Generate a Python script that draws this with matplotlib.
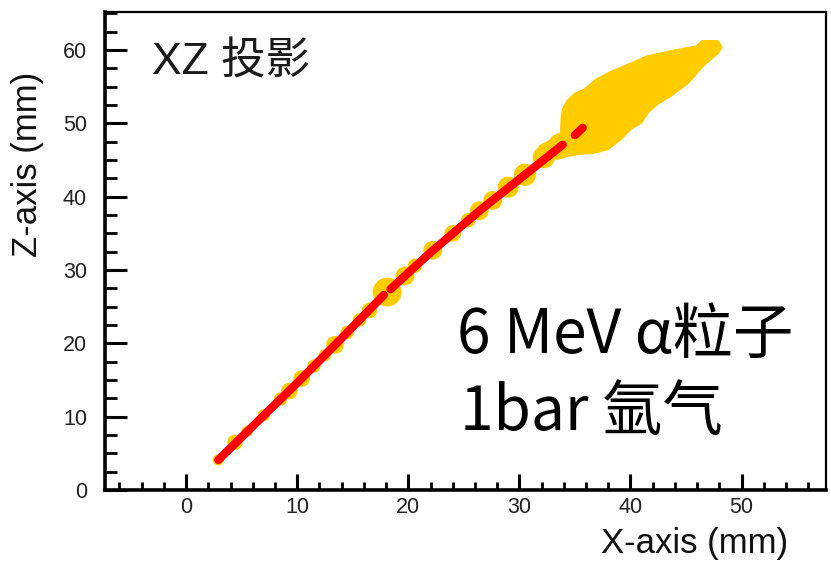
import matplotlib
matplotlib.use("Agg")
import matplotlib.pyplot as plt
from matplotlib.ticker import MultipleLocator

# ---- data ----
# red reconstructed track (X, Z in mm), split into segments with gaps
track_x = [2.9, 6.0, 10.0, 14.0, 17.8]
track_z = [4.1, 8.7, 14.6, 20.7, 26.6]
track2_x = [18.4, 22.0, 26.5, 31.0, 33.9]
track2_z = [27.4, 32.4, 38.2, 43.6, 47.1]
track3_x = [35.0, 35.7]
track3_z = [48.4, 49.4]

# yellow charge deposits along the track: X, Z (mm) and spread diameter (mm)
dep_x = [2.9, 4.4, 5.5, 7.0, 8.5, 9.3, 10.4, 11.5, 12.5, 13.4, 14.5, 15.6, 16.5,
         18.1, 19.7, 20.6, 22.2, 24.0, 25.4, 26.4, 27.6, 29.0, 30.5, 32.2, 33.7]
dep_z = [4.1, 6.5, 8.0, 10.2, 12.4, 13.5, 15.2, 16.9, 18.4, 19.8, 21.5, 23.2, 24.5,
         27.0, 29.2, 30.6, 32.7, 35.0, 36.8, 38.1, 39.5, 41.3, 43.0, 45.4, 47.0]
dep_d = [1.0, 1.4, 1.0, 1.1, 1.2, 1.5, 1.5, 1.2, 1.1, 1.6, 1.2, 1.2, 1.4,
         2.6, 1.7, 1.3, 1.7, 1.5, 1.3, 1.7, 1.7, 1.9, 2.0, 2.0, 2.2]

# end-of-track (Bragg peak) deposit outline
blob_x = [31.9, 32.8, 33.8, 33.9, 34.0, 34.4, 35.0, 35.9, 37.0, 38.4, 40.0, 41.5,
          43.6, 46.0, 46.5, 47.8, 48.1,
          47.8, 46.5, 45.1, 43.6, 42.4, 41.5, 40.9, 40.0, 39.1, 37.9, 36.6, 35.5,
          34.3, 33.4]
blob_z = [46.8, 47.5, 48.4, 50.7, 51.9, 53.0, 53.9, 54.5, 55.9, 57.0, 58.0, 59.0,
          59.7, 60.4, 61.1, 61.1, 60.4,
          59.7, 58.0, 55.6, 53.9, 52.8, 51.6, 50.2, 49.4, 48.0, 46.6, 46.1, 46.0,
          45.7, 45.3]

x_ticks = [0, 10, 20, 30, 40, 50]
z_ticks = [0, 10, 20, 30, 40, 50, 60]

YELLOW = "#FFCC00"
RED = "#FF0000"

fig = plt.figure(figsize=(8.31, 5.63), dpi=100)
ax = fig.add_axes([105 / 831, 1 - 490 / 563, 721 / 831, 478 / 563])
ax.set_xlim(-7.3, 57.6)
ax.set_ylim(0, 65.2)

# pixel per mm in x for circle sizes
px_per_mm = 721 / (57.6 + 7.3)
sizes = [(d * px_per_mm * 0.72) ** 2 for d in dep_d]

ax.fill(blob_x, blob_z, color=YELLOW, lw=3, ec=YELLOW, joinstyle="round", zorder=2)
ax.scatter(dep_x, dep_z, s=sizes, color=YELLOW, lw=0, zorder=2)

for xs, zs in [(track_x, track_z), (track2_x, track2_z), (track3_x, track3_z)]:
    ax.plot(xs, zs, color=RED, lw=6, solid_capstyle="round", zorder=3)

ax.set_xticks(x_ticks)
ax.set_yticks(z_ticks)
ax.xaxis.set_minor_locator(MultipleLocator(2))
ax.yaxis.set_minor_locator(MultipleLocator(2.5))
ax.tick_params(axis="both", which="both", direction="in", top=False, right=False,
               labelsize=15.5, labelcolor="#222222")
ax.tick_params(axis="x", which="major", length=11.5, width=2.2, pad=5)
ax.tick_params(axis="x", which="minor", length=6, width=2)
ax.tick_params(axis="y", which="major", length=16, width=2.2, pad=13)
ax.tick_params(axis="y", which="minor", length=8.5, width=2)
for lab in ax.get_xticklabels() + ax.get_yticklabels():
    lab.set_family("Liberation Sans")

for side in ["left", "bottom"]:
    ax.spines[side].set_linewidth(2.6)
for side in ["top", "right"]:
    ax.spines[side].set_linewidth(1.6)

ax.set_xlabel("X-axis (mm)", fontsize=25, family="Liberation Sans", color="#111111")
ax.xaxis.label.set_ha("right")
ax.xaxis.label.set_va("baseline")
ax.xaxis.set_label_coords((788 - 105) / 721, -(553 - 490) / 478)

ax.set_ylabel("Z-axis (mm)", fontsize=25, family="Liberation Sans", color="#111111")
ax.yaxis.label.set_va("center")
ax.yaxis.set_label_coords((28 - 105) / 721, (490 - 164) / 478)

ax.text((152 - 105) / 721, (490 - 75) / 478, "XZ 投影", transform=ax.transAxes,
        fontsize=32, family=["Liberation Sans", "Noto Sans CJK SC"],
        color="#1a1a1a", ha="left", va="baseline")
ax.text((457 - 105) / 721, (490 - 353) / 478, "6 MeV α粒子", transform=ax.transAxes,
        fontsize=43.5, family=["Noto Sans CJK SC", "DejaVu Sans"],
        color="black", ha="left", va="baseline")
ax.text((460 - 105) / 721, (490 - 430) / 478, "1bar 氩气", transform=ax.transAxes,
        fontsize=43.5, family=["Noto Sans CJK SC", "DejaVu Sans"],
        color="black", ha="left", va="baseline")

fig.savefig("out.png", dpi=100)
